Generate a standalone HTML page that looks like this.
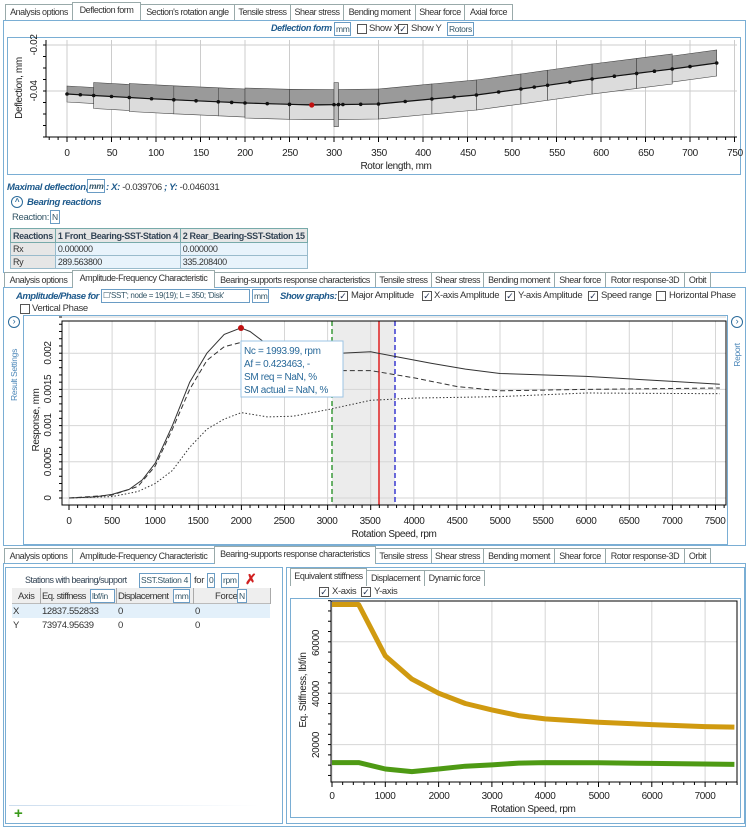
<!DOCTYPE html>
<html><head><meta charset="utf-8"><style>
*{box-sizing:border-box}
body{margin:0;width:749px;height:830px;background:#fff;font-family:"Liberation Sans",sans-serif;font-size:9.5px;letter-spacing:-0.35px;color:#333;position:relative;overflow:hidden}
.a{position:absolute;white-space:nowrap}
.tab{position:absolute;height:16px;border:1px solid #9aa;border-bottom:none;background:#fff;font-size:9px;line-height:15px;text-align:center;color:#333;letter-spacing:-0.45px;white-space:nowrap;overflow:hidden}
.tab.s{height:18px;margin-top:-2px;z-index:2}
.panel{position:absolute;border:1px solid #7aaed4}
.bx{position:absolute;border:1px solid #6a9cc4;height:14px;font-size:8.5px;line-height:12px;padding:0 1px;color:#356;background:#fff;white-space:nowrap;overflow:hidden}
.cb{position:absolute;width:10px;height:10px;border:1px solid #555;background:#fff;font-size:9px;line-height:8px;text-align:center;color:#235;letter-spacing:0}
.bl{color:#1e5a8c;font-weight:bold;font-style:italic}
table{border-collapse:collapse}
td{white-space:nowrap;padding:0 2px}
</style></head><body>

<div class="tab" style="left:5px;top:4px;width:68px">Analysis options</div>
<div class="tab s" style="left:72px;top:4px;width:69px">Deflection form</div>
<div class="tab" style="left:140px;top:4px;width:95px">Section's rotation angle</div>
<div class="tab" style="left:234px;top:4px;width:57px">Tensile stress</div>
<div class="tab" style="left:290px;top:4px;width:54px">Shear stress</div>
<div class="tab" style="left:343px;top:4px;width:73px">Bending moment</div>
<div class="tab" style="left:415px;top:4px;width:50px">Shear force</div>
<div class="tab" style="left:464px;top:4px;width:49px">Axial force</div>
<div class="panel" style="left:3px;top:20px;width:743px;height:253px"></div>

<div class="a bl" style="left:271px;top:23px;font-size:9px">Deflection form</div>
<div class="bx" style="left:334px;top:22px">mm</div>
<div class="cb" style="left:357px;top:24px"></div><div class="a" style="left:369px;top:23px">Show X</div>
<div class="cb" style="left:398px;top:24px">✓</div><div class="a" style="left:411px;top:23px">Show Y</div>
<div class="bx" style="left:447px;top:22px">Rotors</div>

<div class="panel" style="left:7px;top:37px;width:734px;height:138px"></div>
<svg class="a" style="left:0;top:0" width="749" height="180">
<line x1="46" y1="45" x2="737" y2="45" stroke="#ccc"/>
<line x1="46" y1="91" x2="737" y2="91" stroke="#ccc"/>
<g id="g1grid"></g>
<g id="rotor"></g>
<line x1="46" y1="40" x2="46" y2="137" stroke="#000"/>
<line x1="46" y1="137" x2="737" y2="137" stroke="#000"/>
<g id="t1"></g>
<g font-family="Liberation Sans" font-size="10" fill="#222" text-anchor="middle">
<text x="67" y="156">0</text><text x="112" y="156">50</text><text x="156" y="156">100</text><text x="201" y="156">150</text><text x="245" y="156">200</text><text x="290" y="156">250</text><text x="334" y="156">300</text><text x="379" y="156">350</text><text x="423" y="156">400</text><text x="468" y="156">450</text><text x="512" y="156">500</text><text x="557" y="156">550</text><text x="601" y="156">600</text><text x="646" y="156">650</text><text x="690" y="156">700</text><text x="735" y="156">750</text>
<text x="396" y="169">Rotor length, mm</text>
<text transform="translate(37,45) rotate(-90)">-0.02</text>
<text transform="translate(37,91) rotate(-90)">-0.04</text>
<text transform="translate(22,88) rotate(-90)">Deflection, mm</text>
</g>
</svg>

<div class="a bl" style="left:7px;top:182px">Maximal deflection,</div>
<div class="bx" style="left:87px;top:179px;height:14px;font-weight:bold;font-style:italic">mm</div>
<div class="a" style="left:106px;top:182px"><span class="bl">: X: </span>-0.039706 <span class="bl">; Y: </span>-0.046031</div>
<div class="a" style="left:11px;top:196px;width:12px;height:12px;border:1.5px solid #2a6a9a;border-radius:50%;font-size:8px;line-height:9px;text-align:center;color:#2a6a9a;font-weight:bold">^</div>
<div class="a bl" style="left:27px;top:197px">Bearing reactions</div>
<div class="a" style="left:12px;top:212px;color:#356">Reaction:</div><div class="bx" style="left:50px;top:210px">N</div>
<table class="a" style="left:10px;top:228px;border:1.5px solid #2f6f9f;font-size:9px">
<tr style="height:14px;background:#e6e6e6;font-weight:bold;color:#345"><td style="width:44px;border:1px solid #7aa">Reactions</td><td style="width:121px;border:1px solid #7aa">1 Front_Bearing-SST-Station 4</td><td style="width:120px;border:1px solid #7aa">2 Rear_Bearing-SST-Station 15</td></tr>
<tr style="height:13px;background:#e8f3fb"><td style="background:#e6e6e6;border:1px solid #9bc">Rx</td><td style="border:1px solid #9bc">0.000000</td><td style="border:1px solid #9bc">0.000000</td></tr>
<tr style="height:13px;background:#e8f3fb"><td style="background:#e6e6e6;border:1px solid #9bc">Ry</td><td style="border:1px solid #9bc">289.563800</td><td style="border:1px solid #9bc">335.208400</td></tr>
</table>

<div class="tab" style="left:4px;top:272px;width:69px">Analysis options</div>
<div class="tab s" style="left:72px;top:272px;width:143px">Amplitude-Frequency Characteristic</div>
<div class="tab" style="left:214px;top:272px;width:162px">Bearing-supports response characteristics</div>
<div class="tab" style="left:375px;top:272px;width:57px">Tensile stress</div>
<div class="tab" style="left:431px;top:272px;width:53px">Shear stress</div>
<div class="tab" style="left:483px;top:272px;width:72px">Bending moment</div>
<div class="tab" style="left:554px;top:272px;width:52px">Shear force</div>
<div class="tab" style="left:605px;top:272px;width:80px">Rotor response-3D</div>
<div class="tab" style="left:684px;top:272px;width:27px">Orbit</div>
<div class="panel" style="left:3px;top:287px;width:743px;height:259px"></div>

<div class="a bl" style="left:16px;top:291px;letter-spacing:-0.5px">Amplitude/Phase for</div>
<div class="bx" style="left:101px;top:289px;width:149px;font-size:8px">☐'SST'; node = 19(19); L = 350; 'Disk'</div>
<div class="bx" style="left:252px;top:289px">mm</div>
<div class="a bl" style="left:280px;top:291px;letter-spacing:-0.5px">Show graphs:</div>
<div class="cb" style="left:338px;top:291px">✓</div><div class="a" style="left:351px;top:290px">Major Amplitude</div>
<div class="cb" style="left:422px;top:291px">✓</div><div class="a" style="left:434px;top:290px">X-axis Amplitude</div>
<div class="cb" style="left:505px;top:291px">✓</div><div class="a" style="left:518px;top:290px">Y-axis Amplitude</div>
<div class="cb" style="left:588px;top:291px">✓</div><div class="a" style="left:601px;top:290px">Speed range</div>
<div class="cb" style="left:656px;top:291px"></div><div class="a" style="left:669px;top:290px">Horizontal Phase</div>
<div class="cb" style="left:20px;top:304px"></div><div class="a" style="left:32px;top:303px">Vertical Phase</div>

<div class="a" style="left:8px;top:316px;width:12px;height:12px;border:1.5px solid #2a6a9a;border-radius:50%;font-size:9px;line-height:9px;text-align:center;color:#2a6a9a">›</div>
<div class="a" style="left:731px;top:316px;width:12px;height:12px;border:1.5px solid #2a6a9a;border-radius:50%;font-size:9px;line-height:9px;text-align:center;color:#2a6a9a">›</div>
<svg class="a" style="left:0;top:0" width="749" height="830">
<text transform="translate(17,375) rotate(-90)" font-size="8.5" fill="#4a86b8" text-anchor="middle" font-family="Liberation Sans">Result Settings</text>
<text transform="translate(740,355) rotate(-90)" font-size="8.5" fill="#4a86b8" text-anchor="middle" font-family="Liberation Sans">Report</text>
</svg>
<div class="panel" style="left:23px;top:315px;width:705px;height:230px"></div>
<svg class="a" style="left:0;top:0" width="749" height="830">
<rect x="332" y="321" width="63" height="184" fill="#ececec"/>
<g id="g2grid"></g>
<line x1="332" y1="321" x2="332" y2="505" stroke="#3a9a3a" stroke-width="1.5" stroke-dasharray="5,3"/>
<line x1="379" y1="321" x2="379" y2="505" stroke="#e02020" stroke-width="1.5"/>
<line x1="395" y1="321" x2="395" y2="505" stroke="#3a3ad0" stroke-width="1.5" stroke-dasharray="5,3"/>
<path id="c1" fill="none" stroke="#333" stroke-width="1"/>
<path id="c2" fill="none" stroke="#333" stroke-width="1" stroke-dasharray="5,3"/>
<path id="c3" fill="none" stroke="#333" stroke-width="1" stroke-dasharray="1.5,2"/>
<circle cx="241" cy="328" r="3" fill="#c01010"/>
<rect x="62" y="321" width="664" height="184" fill="none" stroke="#000"/>
<g id="t2"></g>
<g font-family="Liberation Sans" font-size="10" fill="#222" text-anchor="middle">
<text x="69" y="524">0</text><text x="112" y="524">500</text><text x="155" y="524">1000</text><text x="198" y="524">1500</text><text x="241" y="524">2000</text><text x="284" y="524">2500</text><text x="327" y="524">3000</text><text x="370" y="524">3500</text><text x="414" y="524">4000</text><text x="457" y="524">4500</text><text x="500" y="524">5000</text><text x="543" y="524">5500</text><text x="586" y="524">6000</text><text x="629" y="524">6500</text><text x="672" y="524">7000</text><text x="715" y="524">7500</text>
<text x="394" y="537">Rotation Speed, rpm</text>
<text transform="translate(51,498) rotate(-90)">0</text>
<text transform="translate(51,462) rotate(-90)">0.0005</text>
<text transform="translate(51,425) rotate(-90)">0.001</text>
<text transform="translate(51,389) rotate(-90)">0.0015</text>
<text transform="translate(51,353) rotate(-90)">0.002</text>
<text transform="translate(39,420) rotate(-90)">Response, mm</text>
</g>
<rect x="241" y="341" width="102" height="56" fill="#fff" stroke="#9cc4e4"/>
<g font-family="Liberation Sans" font-size="10" fill="#2a6a9a">
<text x="244" y="354">Nc = 1993.99, rpm</text>
<text x="244" y="367">Af = 0.423463, -</text>
<text x="244" y="380">SM req = NaN, %</text>
<text x="244" y="393">SM actual = NaN, %</text>
</g>
</svg>

<div class="tab" style="left:4px;top:548px;width:69px">Analysis options</div>
<div class="tab" style="left:72px;top:548px;width:143px">Amplitude-Frequency Characteristic</div>
<div class="tab s" style="left:214px;top:548px;width:162px">Bearing-supports response characteristics</div>
<div class="tab" style="left:375px;top:548px;width:57px">Tensile stress</div>
<div class="tab" style="left:431px;top:548px;width:53px">Shear stress</div>
<div class="tab" style="left:483px;top:548px;width:72px">Bending moment</div>
<div class="tab" style="left:554px;top:548px;width:52px">Shear force</div>
<div class="tab" style="left:605px;top:548px;width:80px">Rotor response-3D</div>
<div class="tab" style="left:684px;top:548px;width:27px">Orbit</div>
<div class="panel" style="left:3px;top:563px;width:743px;height:264px"></div>

<div class="panel" style="left:5px;top:567px;width:278px;height:257px"></div>
<div class="a" style="left:25px;top:575px;font-size:9px;color:#345;letter-spacing:-0.5px">Stations with bearing/support</div>
<div class="bx" style="left:139px;top:573px;width:52px;height:15px">SST.Station 4</div>
<div class="a" style="left:194px;top:575px">for</div>
<div class="bx" style="left:207px;top:573px;height:15px">0</div>
<div class="bx" style="left:221px;top:573px;height:15px">rpm</div>
<div class="a" style="left:245px;top:571px;color:#d02020;font-size:14px;font-weight:bold">✗</div>
<div class="a" style="left:12px;top:588px;width:258px;height:16px;background:#eee;border-bottom:1px solid #bbb"></div>
<div class="a" style="left:18px;top:591px">Axis</div>
<div class="a" style="left:40px;top:588px;height:16px;border-left:1px solid #aaa"></div>
<div class="a" style="left:42px;top:591px;letter-spacing:-0.6px">Eq. stiffness</div><div class="bx" style="left:90px;top:589px;width:25px">lbf/in</div>
<div class="a" style="left:116px;top:588px;height:16px;border-left:1px solid #aaa"></div>
<div class="a" style="left:118px;top:591px;letter-spacing:-0.6px">Displacement</div><div class="bx" style="left:173px;top:589px">mm</div>
<div class="a" style="left:193px;top:588px;height:16px;border-left:1px solid #aaa"></div>
<div class="a" style="left:215px;top:591px">Force</div><div class="bx" style="left:237px;top:589px">N</div>
<div class="a" style="left:270px;top:588px;height:16px;border-left:1px solid #aaa"></div>
<div class="a" style="left:12px;top:604px;width:258px;height:14px;background:#e3f0fa"></div>
<div class="a" style="left:13px;top:606px">X</div><div class="a" style="left:42px;top:606px">12837.552833</div><div class="a" style="left:118px;top:606px">0</div><div class="a" style="left:195px;top:606px">0</div>
<div class="a" style="left:13px;top:620px">Y</div><div class="a" style="left:42px;top:620px">73974.95639</div><div class="a" style="left:118px;top:620px">0</div><div class="a" style="left:195px;top:620px">0</div>
<div class="a" style="left:9px;top:805px;width:250px;height:1px;background:linear-gradient(90deg,#cde,#fff)"></div>
<div class="a" style="left:14px;top:805px;color:#3a9a1a;font-size:15px;font-weight:bold">+</div>

<div class="panel" style="left:286px;top:567px;width:459px;height:257px"></div>
<div class="tab s" style="left:290px;top:570px;width:77px">Equivalent stiffness</div>
<div class="tab" style="left:366px;top:570px;width:59px">Displacement</div>
<div class="tab" style="left:424px;top:570px;width:61px">Dynamic force</div>
<div class="cb" style="left:319px;top:587px">✓</div><div class="a" style="left:332px;top:586px">X-axis</div>
<div class="cb" style="left:361px;top:587px">✓</div><div class="a" style="left:374px;top:586px">Y-axis</div>
<div class="panel" style="left:290px;top:598px;width:451px;height:220px"></div>
<svg class="a" style="left:0;top:0" width="749" height="830">
<g id="g3grid"></g>
<path id="c4" fill="none" stroke="#d09a10" stroke-width="5" stroke-linejoin="round"/>
<path id="c5" fill="none" stroke="#4e9a14" stroke-width="5" stroke-linejoin="round"/>
<rect x="331" y="601" width="406" height="181" fill="none" stroke="#000"/>
<g id="t3"></g>
<g font-family="Liberation Sans" font-size="10" fill="#222" text-anchor="middle">
<text x="332" y="799">0</text><text x="385" y="799">1000</text><text x="439" y="799">2000</text><text x="492" y="799">3000</text><text x="545" y="799">4000</text><text x="599" y="799">5000</text><text x="652" y="799">6000</text><text x="705" y="799">7000</text>
<text x="533" y="812">Rotation Speed, rpm</text>
<text transform="translate(319,643) rotate(-90)">60000</text>
<text transform="translate(319,694) rotate(-90)">40000</text>
<text transform="translate(319,745) rotate(-90)">20000</text>
<text transform="translate(306,690) rotate(-90)">Eq. Stiffness, lbf/in</text>
</g>
</svg>

<script>
function P(pts,fx,fy){return pts.map((p,i)=>(i?'L':'M')+fx(p[0]).toFixed(1)+' '+fy(p[1]).toFixed(1)).join(' ')}
const NS='http://www.w3.org/2000/svg';
function el(g,tag,at){const e=document.createElementNS(NS,tag);for(const k in at)e.setAttribute(k,at[k]);document.getElementById(g).appendChild(e);return e}
const mx=m=>67+m*0.89;
const cp=[[0,94],[100,99],[200,103],[275,105],[350,104],[410,99],[460,95],[510,89],[590,79],[680,69],[730,63]];
function cy(m){for(let i=1;i<cp.length;i++){if(m<=cp[i][0]){const a=cp[i-1],b=cp[i];return a[1]+(b[1]-a[1])*(m-a[0])/(b[0]-a[0])}}return 63}
for(let m=0;m<=750;m+=50){el('g1grid','line',{x1:mx(m),x2:mx(m),y1:40,y2:137,stroke:'#ccc'})}
for(let m=-20;m<=750;m+=10){el('t1','line',{x1:mx(m),x2:mx(m),y1:137,y2:m%50?140:142,stroke:'#000'})}
for(let y=45;y<=137;y+=11.5){el('t1','line',{x1:43,x2:46,y1:y,y2:y,stroke:'#000'})}
const secs=[[0,30,8],[30,70,13],[70,120,14],[120,170,14],[170,200,14],[200,250,15],[250,300,15],[305,350,15],[350,410,15],[410,460,15],[460,510,15],[510,540,15],[540,590,15],[590,640,15],[640,680,15],[680,730,13]];
secs.forEach(s=>{const a=mx(s[0]),b=mx(s[1]),ya=cy(s[0]),yb=cy(s[1]),h=s[2];
el('rotor','polygon',{points:`${a},${ya-h} ${b},${yb-h} ${b},${yb} ${a},${ya}`,fill:'#9a9a9a',stroke:'#444','stroke-width':0.6});
el('rotor','polygon',{points:`${a},${ya} ${b},${yb} ${b},${yb+h} ${a},${ya+h}`,fill:'#dcdcdc',stroke:'#444','stroke-width':0.6});});
el('rotor','rect',{x:mx(300),y:cy(300)-22,width:mx(305)-mx(300),height:44,fill:'#bbb',stroke:'#444','stroke-width':0.6});
const nodes=[0,15,30,50,70,95,120,145,170,185,200,225,250,275,300,305,310,330,350,380,410,435,460,485,510,525,540,565,590,615,640,660,680,700,730];
el('rotor','path',{d:P(nodes.map(m=>[m,cy(m)]),mx,y=>y),stroke:'#111',fill:'none','stroke-width':1.2});
nodes.forEach(m=>el('rotor','circle',{cx:mx(m),cy:cy(m),r:m==275?2.6:1.8,fill:m==275?'#c01010':'#111'}));
const rx=r=>69+r*0.0862, ry=v=>498-v*72400;
for(let r=0;r<=7500;r+=500)el('g2grid','line',{x1:rx(r),x2:rx(r),y1:321,y2:505,stroke:'#d6d6d6'});
for(let v=0;v<=0.0025;v+=0.0005)el('g2grid','line',{x1:62,x2:726,y1:ry(v),y2:ry(v),stroke:'#d6d6d6'});
for(let r=0;r<=7600;r+=100)el('t2','line',{x1:rx(r),x2:rx(r),y1:505,y2:r%500?508:510,stroke:'#000'});
for(let v=0;v<=0.0025;v+=0.0001)el('t2','line',{x1:59,x2:62,y1:ry(v),y2:ry(v),stroke:'#000'});
document.getElementById('c1').setAttribute('d',P([[0,0],[300,0.000015],[500,0.00005],[700,0.00012],[850,0.00025],[1000,0.00048],[1200,0.001],[1400,0.0016],[1600,0.002],[1800,0.00226],[1994,0.00235],[2100,0.0023],[2300,0.00212],[2600,0.00203],[3000,0.00199],[3500,0.00202],[3800,0.00195],[4200,0.00186],[4600,0.00178],[5000,0.00172],[6000,0.00168],[7000,0.00161],[7550,0.00157]],rx,ry));
document.getElementById('c2').setAttribute('d',P([[0,0],[500,0.00004],[800,0.00016],[1000,0.00044],[1200,0.00095],[1400,0.0015],[1600,0.0019],[1800,0.00209],[2000,0.00215],[2300,0.00202],[2700,0.00183],[3000,0.00176],[3500,0.00176],[4000,0.00166],[4500,0.00154],[5000,0.00148],[6000,0.0015],[7550,0.00152]],rx,ry));
document.getElementById('c3').setAttribute('d',P([[0,0],[500,0.00002],[800,0.00009],[1000,0.0002],[1200,0.00038],[1400,0.0007],[1600,0.00095],[1800,0.00109],[2000,0.00118],[2300,0.00112],[2600,0.00113],[3000,0.00122],[3500,0.00135],[4000,0.00138],[5000,0.0014],[6000,0.00145],[7550,0.00144]],rx,ry));
const sx=r=>332+r*0.0533, sy=v=>796-v*0.00257;
for(let r=0;r<=7000;r+=1000)el('g3grid','line',{x1:sx(r),x2:sx(r),y1:601,y2:782,stroke:'#d6d6d6'});
for(let v=20000;v<=60000;v+=20000)el('g3grid','line',{x1:331,x2:737,y1:sy(v),y2:sy(v),stroke:'#d6d6d6'});
for(let r=0;r<=7600;r+=200)el('t3','line',{x1:sx(r),x2:sx(r),y1:782,y2:r%1000?785:787,stroke:'#000'});
for(let v=8000;v<=76000;v+=4000)el('t3','line',{x1:328,x2:331,y1:sy(v),y2:sy(v),stroke:'#000'});
document.getElementById('c4').setAttribute('d',P([[0,74500],[500,74500],[1000,54500],[1500,45500],[2000,40000],[2500,36000],[3000,33500],[3500,31300],[4000,30000],[5000,28700],[6000,27800],[7000,27000],[7550,26800]],sx,sy));
document.getElementById('c5').setAttribute('d',P([[0,13000],[500,13000],[1000,10500],[1500,9500],[2000,10500],[2500,11600],[3000,12100],[3500,12800],[4000,13000],[5000,12900],[6000,12700],[7550,12300]],sx,sy));
</script>
</body></html>
